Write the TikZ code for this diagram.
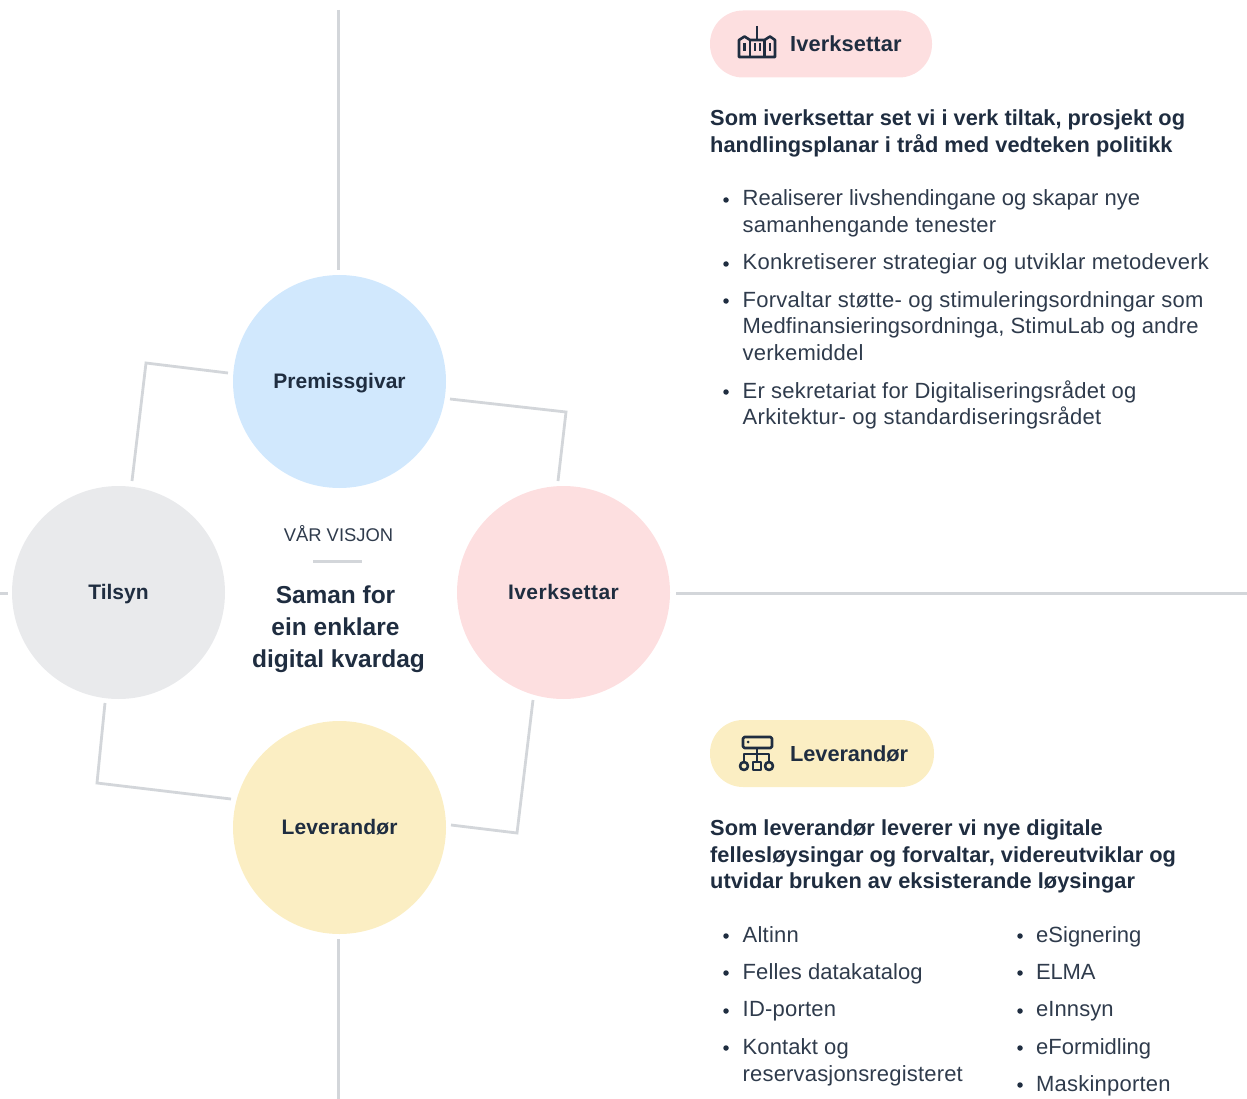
\documentclass[tikz,border=0pt]{standalone}
\usepackage{fontspec}
\setmainfont{Liberation Sans}
\definecolor{ink}{HTML}{1F2D40}
\definecolor{bodyink}{HTML}{2F3B4C}
\definecolor{rulegrey}{HTML}{D3D6DA}
\definecolor{blueC}{HTML}{D1E8FD}
\definecolor{pinkC}{HTML}{FDDFE0}
\definecolor{greyC}{HTML}{E9EAEC}
\definecolor{yellowC}{HTML}{FBEEC3}
\tikzset{
 x=1pt,y=-1pt,
 ls/.style={execute at begin node={\addfontfeature{LetterSpace=#1}}},
 circ/.style={circle,minimum size=213pt,inner sep=0pt,text=ink,text height=13pt,text depth=0pt,font=\fontsize{21}{25}\selectfont\bfseries},
 rail/.style={draw=rulegrey,line width=3pt},
 link/.style={draw=rulegrey,line width=2.8pt},
 pill/.style={rounded corners=33pt,minimum height=67pt},
 pilltext/.style={anchor=base west,text=ink,inner sep=0pt,font=\fontsize{21.8}{26}\selectfont\bfseries},
 lead/.style={anchor=base west,inner sep=0pt,text=ink,font=\fontsize{21.8}{26.5}\selectfont\bfseries},
 item/.style={anchor=base west,inner sep=0pt,text=bodyink,font=\fontsize{22}{26.5}\selectfont},
 vision/.style={anchor=base,inner sep=0pt,text=ink,font=\fontsize{24.5}{32}\selectfont\bfseries},
 dot/.style={circle,fill=ink,inner sep=0pt,minimum size=5.5pt},
 icon/.style={draw=ink,line width=2.6pt,line join=round},
}
\begin{document}
\begin{tikzpicture}
\useasboundingbox (0,0) rectangle (1247,1099);
% rails
\coordinate (r1a) at (338,10); \coordinate (r1b) at (338,270);
\coordinate (r2a) at (676,593); \coordinate (r2b) at (1247,593);
\coordinate (r3a) at (338,939); \coordinate (r3b) at (338,1099);
\coordinate (r4a) at (0,593); \coordinate (r4b) at (8,593);
\draw[rail] (r1a)--(r1b); \draw[rail] (r2a)--(r2b); \draw[rail] (r3a)--(r3b); \draw[rail] (r4a)--(r4b);
% circles
\node[circ,fill=blueC,ls=.2] (prem) at (339.5,381.5) {Premissgivar};
\node[circ,fill=pinkC,ls=2.2] (iver) at (563.5,592.5) {Iverksettar};
\node[circ,fill=greyC] (tils) at (118.5,592.5) {Tilsyn};
\node[circ,fill=yellowC,ls=0.8] (leve) at (339.5,827.5) {Leverandør};
% links
\coordinate (a1) at (450,399); \coordinate (a2) at (566,412); \coordinate (a3) at (558,481);
\coordinate (b1) at (533,700); \coordinate (b2) at (517,833); \coordinate (b3) at (451,825);
\coordinate (c1) at (231,799); \coordinate (c2) at (97,783); \coordinate (c3) at (105,703);
\coordinate (d1) at (132,481); \coordinate (d2) at (146,363); \coordinate (d3) at (228,373);
\draw[link] (a1)--(a2)--(a3);
\draw[link] (b1)--(b2)--(b3);
\draw[link] (c1)--(c2)--(c3);
\draw[link] (d1)--(d2)--(d3);
% vision
\node[anchor=base,text=bodyink,inner sep=0pt,font=\fontsize{18.4}{22}\selectfont] (vis) at (338.5,541.5) {VÅR VISJON};
\coordinate (v1) at (313,561.5); \coordinate (v2) at (362,561.5);
\draw[draw=rulegrey,line width=3pt] (v1)--(v2);
\node[vision,ls=-.2] (sam1) at (335.5,603) {Saman for};
\node[vision] (sam2) at (335.5,635) {ein enklare};
\node[vision] (sam3) at (338.5,667) {digital kvardag};
% pill 1
\node[pill,fill=pinkC,minimum width=222pt,inner sep=0pt] (p1) at (821,44) {};
\node[pilltext,ls=.5] (p1t) at (790,51.5) {Iverksettar};
\draw[icon] (739,57)--(739,40)--(744.5,36.5)--(750,40)--(764.5,40)--(770,36.5)--(775,40)--(775,57)--cycle;
\draw[icon] (750,40)--(750,57) (764.5,40)--(764.5,57);
\draw[icon] (757,26)--(757,40);
\draw[icon] (744.5,43)--(744.5,51) (770,43)--(770,51) (755,43)--(755,51) (760,43)--(760,51);
\node[lead] (l1a) at (710,125.5) {Som iverksettar set vi i verk tiltak, prosjekt og};
\node[lead,ls=.1] (l1b) at (710,153) {handlingsplanar i tråd med vedteken politikk};
\node[dot] (d11) at (726,200) {};
\node[item] (t11a) at (742.5,206) {Realiserer livshendingane og skapar nye};
\node[item,ls=.9] (t11b) at (742.5,232.5) {samanhengande tenester};
\node[dot] (d12) at (726,264) {};
\node[item,ls=1.1] (t12) at (742.5,270) {Konkretiserer strategiar og utviklar metodeverk};
\node[dot] (d13) at (726,301) {};
\node[item,ls=1.2] (t13a) at (742.5,307) {Forvaltar støtte- og stimuleringsordningar som};
\node[item,ls=.7] (t13b) at (742.5,333.5) {Medfinansieringsordninga, StimuLab og andre};
\node[item,ls=1] (t13c) at (742.5,360) {verkemiddel};
\node[dot] (d14) at (726,392) {};
\node[item,ls=.9] (t14a) at (742.5,398) {Er sekretariat for Digitaliseringsrådet og};
\node[item,ls=1.4] (t14b) at (742.5,424.5) {Arkitektur- og standardiseringsrådet};
% pill 2
\node[pill,fill=yellowC,minimum width=224pt,inner sep=0pt] (p2) at (822,753.5) {};
\node[pilltext,ls=-.4] (p2t) at (790,761) {Leverandør};
\draw[icon,rounded corners=1.5pt] (743,737) rectangle (772,748);
\fill[ink] (748,742) circle (1.5);
\draw[icon] (757,748)--(757,762) (744,762)--(744,754)--(769,754)--(769,762);
\draw[icon] (744,766) circle (4) (769,766) circle (4);
\draw[icon] (753,762) rectangle (761,770);
\node[lead] (l2a) at (710,835) {Som leverandør leverer vi nye digitale};
\node[lead,ls=.2] (l2b) at (710,862) {fellesløysingar og forvaltar, videreutviklar og};
\node[lead,ls=.1] (l2c) at (710,888) {utvidar bruken av eksisterande løysingar};
\node[dot] (e1) at (726,936) {}; \node[item,ls=1] (u1) at (742.5,942) {Altinn};
\node[dot] (e2) at (726,973) {}; \node[item,ls=.4] (u2) at (742.5,979) {Felles datakatalog};
\node[dot] (e3) at (726,1011) {}; \node[item,ls=1] (u3) at (742.5,1016.5) {ID-porten};
\node[dot] (e4) at (726,1048) {}; \node[item,ls=.5] (u4a) at (742.5,1054) {Kontakt og};
\node[item,ls=.8] (u4b) at (742.5,1081) {reservasjonsregisteret};
\node[dot] (f1) at (1020,936) {}; \node[item] (w1) at (1036,942) {eSignering};
\node[dot] (f2) at (1020,973) {}; \node[item,ls=-1] (w2) at (1036,979) {ELMA};
\node[dot] (f3) at (1020,1011) {}; \node[item,ls=.3] (w3) at (1036,1016.5) {eInnsyn};
\node[dot] (f4) at (1020,1048) {}; \node[item] (w4) at (1036,1054) {eFormidling};
\node[dot] (f5) at (1020,1085) {}; \node[item,ls=1] (w5) at (1036,1091.5) {Maskinporten};
\end{tikzpicture}
\end{document}
